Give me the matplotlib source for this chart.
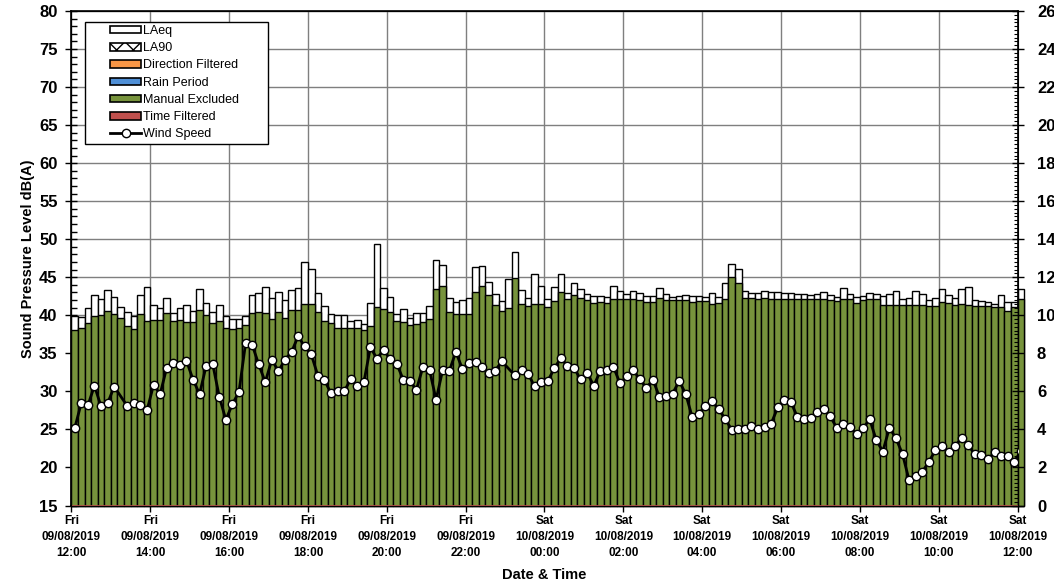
import numpy as np
import matplotlib
matplotlib.use('Agg')
import matplotlib.pyplot as plt
from matplotlib.patches import Patch, Rectangle
from matplotlib.lines import Line2D
from matplotlib.ticker import MultipleLocator

plt.rcParams['font.family'] = ['Liberation Sans', 'DejaVu Sans']

# 10 minute intervals from Fri 09/08/2019 12:00 to Sat 10/08/2019 12:00
laeq = [39.96, 39.78, 40.92, 42.72, 42.15, 43.34, 42.40, 41.14, 40.40, 39.87,
        42.72, 43.69, 41.41, 41.00, 42.24, 40.35, 40.92, 41.41, 40.57, 43.50,
        41.67, 40.49, 41.32, 39.90, 39.48, 39.48, 39.87, 42.68, 42.99, 43.69,
        42.28, 43.03, 42.07, 43.29, 43.60, 47.02, 46.14, 42.99, 41.19, 40.14,
        40.05, 40.05, 39.26, 39.35, 38.82, 41.58, 49.39, 43.60, 42.40, 40.14,
        40.88, 39.70, 40.35, 40.31, 41.28, 47.33, 46.67, 42.28, 41.76, 41.98,
        42.33, 46.36, 46.50, 44.35, 42.81, 41.85, 44.83, 48.29, 43.34, 42.24,
        45.49, 43.82, 42.20, 43.73, 45.49, 42.99, 44.30, 43.42, 42.81, 42.59,
        42.59, 42.37, 43.90, 43.25, 42.77, 43.20, 42.90, 42.50, 42.50, 43.64,
        42.85, 42.46, 42.50, 42.64, 42.50, 42.50, 42.42, 42.99, 42.37, 44.30,
        46.76, 46.14, 43.20, 42.94, 42.94, 43.20, 43.03, 43.03, 42.99, 42.94,
        42.77, 42.77, 42.72, 42.85, 43.07, 42.72, 42.42, 43.64, 42.81, 42.37,
        42.55, 42.99, 42.85, 42.50, 42.81, 43.20, 42.20, 42.28, 43.20, 42.85,
        42.02, 42.28, 43.42, 42.64, 42.28, 43.42, 43.69, 42.07, 41.89, 41.80,
        41.54, 42.72, 41.80, 41.80, 43.51]

# LA90, all periods manually excluded
la90 = [38.12, 38.38, 39.00, 39.96, 40.05, 40.57, 40.20, 39.70, 38.60, 38.20,
        40.18, 39.26, 39.39, 39.35, 40.30, 39.20, 39.35, 39.17, 39.13, 40.70,
        40.09, 39.00, 39.26, 38.38, 38.20, 38.29, 38.73, 40.31, 40.49, 40.27,
        39.52, 40.40, 39.70, 40.66, 40.75, 41.45, 41.45, 40.44, 39.26, 39.00,
        38.38, 38.29, 38.29, 38.29, 38.12, 38.56, 41.10, 40.84, 40.49, 39.26,
        39.17, 38.73, 38.82, 39.17, 39.48, 43.51, 43.82, 40.44, 40.14, 40.14,
        40.14, 43.03, 43.82, 42.64, 41.32, 40.57, 40.92, 44.96, 41.54, 41.19,
        41.54, 41.54, 41.10, 41.85, 43.07, 42.11, 42.64, 42.28, 42.07, 41.63,
        41.76, 41.63, 42.20, 42.20, 42.20, 42.20, 42.07, 41.71, 41.76, 42.33,
        41.98, 42.07, 41.98, 41.98, 41.71, 41.93, 41.89, 41.54, 41.63, 42.20,
        45.00, 44.26, 42.33, 42.24, 42.20, 42.33, 42.20, 42.20, 42.20, 42.20,
        42.11, 42.11, 42.11, 42.11, 42.11, 42.07, 41.89, 42.11, 42.11, 41.63,
        41.98, 42.11, 42.11, 41.41, 41.41, 41.41, 41.32, 41.32, 41.32, 41.32,
        41.19, 41.28, 41.71, 41.63, 41.41, 41.54, 41.32, 41.19, 41.19, 41.19,
        41.10, 41.10, 40.53, 41.10, 42.20]

nan = np.nan
wind = [4.07, 5.40, 5.26, 6.30, 5.21, 5.37, 6.25, nan, 5.23, 5.39,
        5.26, 5.00, 6.35, 5.86, 7.25, 7.48, 7.39, 7.62, 6.62, 5.86,
        7.35, 7.44, 5.72, 4.51, 5.33, 5.98, 8.53, 8.46, 7.42, 6.49,
        7.67, 7.06, 7.67, 8.07, 8.90, 8.37, 7.95, 6.83, 6.60, 5.90,
        6.00, 6.00, 6.63, 6.28, 6.47, 8.32, 7.72, 8.18, 7.70, 7.46,
        6.62, 6.55, 6.09, 7.28, 7.13, 5.56, 7.12, 7.06, 8.07, 7.19,
        7.51, 7.56, 7.26, 6.98, 7.09, 7.58, nan, 6.84, 7.14, 6.93,
        6.26, 6.49, 6.55, 7.21, 7.77, 7.32, 7.23, 6.63, 6.98, 6.30,
        7.07, 7.12, 7.28, 6.42, 6.79, 7.12, 6.65, 6.18, 6.62, 5.70,
        5.76, 5.88, 6.55, 5.86, 4.63, 4.82, 5.25, 5.49, 5.07, 4.56,
        3.98, 4.00, 4.02, 4.19, 4.02, 4.12, 4.30, 5.16, 5.56, 5.44,
        4.65, 4.56, 4.62, 4.91, 5.07, 4.69, 4.07, 4.26, 4.12, 3.76,
        4.07, 4.53, 3.44, 2.84, 4.09, 3.53, 2.70, 1.32, 1.54, 1.77,
        2.30, 2.90, 3.11, 2.83, 3.14, 3.55, 3.16, 2.70, 2.67, 2.44,
        2.79, 2.60, 2.60, 2.30, 2.86]

tick_days = ['Fri'] * 6 + ['Sat'] * 7
tick_dates = ['09/08/2019'] * 6 + ['10/08/2019'] * 7
tick_times = ['12:00', '14:00', '16:00', '18:00', '20:00', '22:00', '00:00',
              '02:00', '04:00', '06:00', '08:00', '10:00', '12:00']

GREEN = '#77933C'
ORANGE = '#F79646'
BLUE = '#4F8FD6'
RED = '#C0504D'

fig = plt.figure(figsize=(10.54, 5.87), dpi=100)
ax = fig.add_axes([0.0678, 0.1388, 0.8976, 0.8425])

x = np.arange(len(laeq))
ax.bar(x, np.array(laeq) - 15, bottom=15, width=1.0, align='edge', color='white',
       edgecolor='black', linewidth=1.0, zorder=2, clip_on=False)
ax.bar(x, np.array(la90) - 15, bottom=15, width=1.0, align='edge', color=GREEN,
       edgecolor='black', linewidth=1.0, zorder=3, clip_on=False)
ax.axhline(15, color=RED, linewidth=1.2, zorder=4)

ax.set_xlim(0, 144)
ax.set_ylim(15, 80)
ax.yaxis.set_major_locator(MultipleLocator(5))
ax.yaxis.set_minor_locator(MultipleLocator(1))
ax.set_xticks(np.arange(0, 145, 12))
ax.set_xticklabels(['{}\n{}\n{}'.format(d, dt, t)
                    for d, dt, t in zip(tick_days, tick_dates, tick_times)],
                   fontsize=8.5, fontweight='bold', linespacing=1.45)
ax.tick_params(axis='y', which='major', direction='inout', length=8, width=1,
               labelsize=12, pad=6)
ax.tick_params(axis='y', which='minor', direction='in', length=4, width=1)
ax.tick_params(axis='x', which='major', direction='out', length=4, width=1, pad=3)
ax.grid(True, which='major', color='#7f7f7f', linewidth=1.0)
ax.set_axisbelow(True)
for lbl in ax.get_yticklabels():
    lbl.set_fontweight('bold')
ax.set_ylabel('Sound Pressure Level dB(A)', fontsize=10.5, fontweight='bold', labelpad=3)
ax.set_xlabel('Date & Time', fontsize=10.5, fontweight='bold', labelpad=6)
for s in ax.spines.values():
    s.set_linewidth(1.2)

ax2 = ax.twinx()
ax2.set_ylim(0, 26)
ax2.yaxis.set_major_locator(MultipleLocator(2))
ax2.yaxis.set_minor_locator(MultipleLocator(0.2))
ax2.tick_params(axis='y', which='major', direction='inout', length=8, width=1,
                labelsize=12, pad=10)
ax2.tick_params(axis='y', which='minor', direction='in', length=3, width=0.8)
for lbl in ax2.get_yticklabels():
    lbl.set_fontweight('bold')

w = np.array(wind)
ok = ~np.isnan(w)
ax2.plot(x[ok] + 0.5, w[ok], color='black', linewidth=2.0, marker='o',
         markersize=6, markerfacecolor='white', markeredgecolor='black',
         markeredgewidth=1.0, zorder=5)

# legend box drawn separately, Excel style with wide padding
box = Rectangle((0.0143, 0.7313), 0.1934, 0.2467, transform=ax2.transAxes,
                facecolor='white', edgecolor='black', linewidth=1.0, zorder=6)
ax2.add_patch(box)

handles = [
    Patch(facecolor='white', edgecolor='black', linewidth=1.2, label='LAeq'),
    Patch(facecolor='white', edgecolor='black', linewidth=1.2, hatch='xx', label='LA90'),
    Patch(facecolor=ORANGE, edgecolor='black', linewidth=1.2, label='Direction Filtered'),
    Patch(facecolor=BLUE, edgecolor='black', linewidth=1.2, label='Rain Period'),
    Patch(facecolor=GREEN, edgecolor='black', linewidth=1.2, label='Manual Excluded'),
    Patch(facecolor=RED, edgecolor='black', linewidth=1.2, label='Time Filtered'),
    Line2D([], [], color='black', linewidth=2.0, marker='o', markersize=6,
           markerfacecolor='white', markeredgecolor='black', label='Wind Speed'),
]
leg = ax2.legend(handles=handles, loc='upper left', bbox_to_anchor=(0.0407, 0.9717),
                 borderaxespad=0, fontsize=9, frameon=False, handlelength=2.5,
                 handleheight=0.55, handletextpad=0.15, labelspacing=0.42, borderpad=0)
leg.set_zorder(7)

fig.savefig('out.png', dpi=100)
